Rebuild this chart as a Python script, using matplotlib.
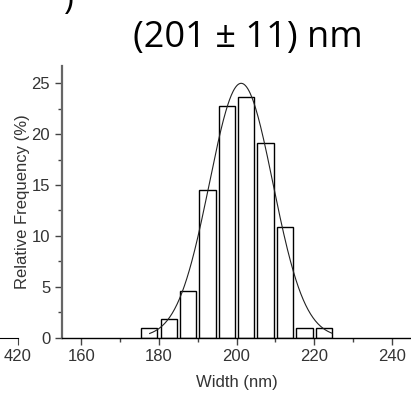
import numpy as np
import matplotlib
matplotlib.use("Agg")
import matplotlib.pyplot as plt
from matplotlib.ticker import MultipleLocator

plt.rcParams['font.family'] = ['Liberation Sans', 'DejaVu Sans']

# histogram of particle widths (bin centres in nm, relative frequency in %)
bin_centers = [177.5, 182.5, 187.5, 192.5, 197.5, 202.5, 207.5, 212.5, 217.5, 222.5]
rel_freq = [0.91, 1.82, 4.55, 14.55, 22.73, 23.64, 19.09, 10.91, 0.91, 0.91]
bin_width = 5.0
bar_frac = 0.84

# gaussian fit parameters
fit_center = 201.2
fit_sigma = 8.2
fit_peak = 25.0
fit_range = (177.6, 224.6)

title_text = "(201 ± 11) nm"
grey = "#444444"

fig = plt.figure(figsize=(4.11, 3.96), dpi=100)

# main histogram axes
ax = fig.add_axes([0.1509, 0.1477, 0.8491, 0.6856])
ax.bar(bin_centers, rel_freq, width=bin_width * bar_frac, facecolor="white",
       edgecolor="black", linewidth=1.0, zorder=2)

xs = np.linspace(fit_range[0], fit_range[1], 300)
ys = fit_peak * np.exp(-(xs - fit_center) ** 2 / (2 * fit_sigma ** 2))
ax.plot(xs, ys, color="#222222", linewidth=0.8, zorder=3)

ax.set_xlim(155, 245)
ax.set_ylim(0, 26.7)
ax.xaxis.set_major_locator(MultipleLocator(20))
ax.xaxis.set_minor_locator(MultipleLocator(10))
ax.yaxis.set_major_locator(MultipleLocator(5))
ax.yaxis.set_minor_locator(MultipleLocator(2.5))
ax.tick_params(which="both", direction="out", colors=grey, labelcolor="#333333",
               labelsize=12, width=1.0)
ax.tick_params(which="major", length=5)
ax.tick_params(which="minor", length=3)
ax.set_xlabel("Width (nm)", fontsize=12, color="#333333", labelpad=8)
ax.set_ylabel("Relative Frequency (%)", fontsize=12, color="#333333", labelpad=1.5)
for side in ("top", "right"):
    ax.spines[side].set_visible(False)
ax.spines["left"].set_color("#666666")
ax.spines["left"].set_linewidth(1.6)
ax.spines["bottom"].set_color("black")
ax.spines["bottom"].set_linewidth(1.0)

# neighbouring panel's x axis, cut off at the left edge
ax0 = fig.add_axes([-0.3, 0.1477, 0.3 + 18 / 411, 0.6856])
ax0.set_xlim(340, 420)
ax0.set_ylim(0, 1)
ax0.set_xticks([420])
ax0.set_yticks([])
ax0.patch.set_visible(False)
for side in ("top", "right", "left"):
    ax0.spines[side].set_visible(False)
ax0.spines["bottom"].set_color("black")
ax0.tick_params(direction="out", length=5, colors=grey, labelcolor="#333333",
                labelsize=12)

fig.text(0.602, 0.881, title_text, fontsize=26, family=["Open Sans", "DejaVu Sans"],
         ha="center", va="baseline", color="black")
fig.text(0.165, 1.0, ")", fontsize=24, family=["Open Sans", "DejaVu Sans"],
         ha="center", va="center", color="black")

fig.savefig("out.png", dpi=100)
